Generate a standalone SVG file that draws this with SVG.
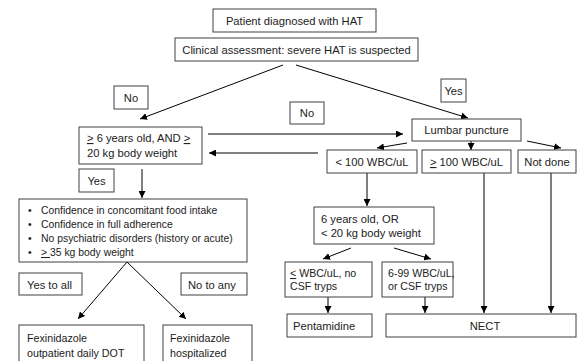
<svg xmlns="http://www.w3.org/2000/svg" width="577" height="361" viewBox="0 0 577 361">
<defs>
<marker id="ah" viewBox="0 0 10 10" refX="10" refY="5" markerWidth="7" markerHeight="7" markerUnits="userSpaceOnUse" orient="auto">
<path d="M0,0 L10,5 L0,10 z" fill="#000"/>
</marker>
<style>
rect{fill:#fff;stroke:#404040;stroke-width:1}
text{font-family:"Liberation Sans",Arial,sans-serif;font-size:11.2px;fill:#222}
.s{font-size:10.6px}
.b{font-size:10.4px}
.f{font-size:10.7px}
.c{text-anchor:middle}
.u{text-decoration:underline}
#connectors line{stroke:#000;stroke-width:1;marker-end:url(#ah)}
</style>
</defs>
<rect x="0" y="0" width="577" height="361" style="fill:#fff;stroke:none"/>
<g id="connectors">
<line x1="283" y1="65" x2="140" y2="119"/>
<line x1="296" y1="65" x2="468" y2="118"/>
<line x1="208" y1="134" x2="403" y2="134"/>
<line x1="318" y1="153" x2="209" y2="153"/>
<line x1="407" y1="143" x2="377" y2="148"/>
<line x1="471" y1="141" x2="471" y2="150"/>
<line x1="527" y1="141" x2="561" y2="148"/>
<line x1="142" y1="169" x2="142" y2="198"/>
<line x1="127" y1="262" x2="78" y2="319"/>
<line x1="127" y1="262" x2="186" y2="319"/>
<line x1="367" y1="173" x2="367" y2="206"/>
<line x1="351" y1="248" x2="323" y2="259"/>
<line x1="394" y1="248" x2="431" y2="259"/>
<line x1="328" y1="297" x2="328" y2="313"/>
<line x1="425" y1="297" x2="425" y2="313"/>
<line x1="484" y1="173" x2="484" y2="313"/>
<line x1="551" y1="173" x2="551" y2="313"/>
</g>
<g id="n-diag"><rect x="213" y="9" width="163" height="23"/><text class="c" x="294.5" y="25">Patient diagnosed with HAT</text></g>
<g id="n-clin"><rect x="175" y="38" width="243" height="23"/><text class="c" x="296.5" y="54">Clinical assessment: severe HAT is suspected</text></g>
<g id="l-no1"><rect x="114" y="86" width="34" height="23"/><text class="c" x="131" y="102">No</text></g>
<g id="l-yes1"><rect x="441" y="79" width="25" height="23"/><text class="c" x="453.5" y="95">Yes</text></g>
<g id="l-no2"><rect x="290" y="102" width="34" height="22"/><text class="c" x="307" y="117">No</text></g>
<g id="n-age"><rect x="79" y="127" width="123" height="37"/><text x="87" y="142"><tspan class="u">&gt;</tspan> 6 years old, AND <tspan class="u">&gt;</tspan></text><text x="87" y="157">20 kg body weight</text></g>
<g id="n-lp"><rect x="412" y="119" width="109" height="22"/><text class="c" x="466.5" y="134">Lumbar puncture</text></g>
<g id="n-lt100"><rect x="327" y="150" width="90" height="23"/><text class="c" x="372" y="166">&lt; 100 WBC/uL</text></g>
<g id="n-ge100"><rect x="422" y="150" width="89" height="23"/><text class="c" x="466.5" y="166"><tspan class="u">&gt;</tspan> 100 WBC/uL</text></g>
<g id="n-notdone"><rect x="518" y="150" width="58" height="23"/><text class="c" x="547" y="166">Not done</text></g>
<g id="l-yes2"><rect x="79" y="169" width="35" height="23"/><text class="c" x="96.5" y="185">Yes</text></g>
<g id="n-crit"><rect x="19" y="199" width="228" height="63"/>
<text class="b" x="28" y="214">•</text><text class="b" x="41" y="214">Confidence in concomitant food intake</text>
<text class="b" x="28" y="228">•</text><text class="b" x="41" y="228">Confidence in full adherence</text>
<text class="b" x="28" y="242">•</text><text class="b" x="41" y="242">No psychiatric disorders (history or acute)</text>
<text class="b" x="28" y="256">•</text><text class="b" x="41" y="256"><tspan class="u">&gt; </tspan>35 kg body weight</text></g>
<g id="l-yesall"><rect x="19" y="273" width="63" height="22"/><text x="27" y="289">Yes to all</text></g>
<g id="l-noany"><rect x="181" y="273" width="66" height="22"/><text x="188" y="289">No to any</text></g>
<g id="n-fexout"><rect x="19" y="325" width="125" height="40"/><text class="f" x="27" y="342">Fexinidazole</text><text class="f" x="27" y="357">outpatient daily DOT</text></g>
<g id="n-fexhosp"><rect x="163" y="325" width="89" height="40"/><text class="f" x="170" y="342">Fexinidazole</text><text class="f" x="170" y="357">hospitalized</text></g>
<g id="n-young"><rect x="314" y="207" width="120" height="37"/><text x="321" y="223">6 years old, OR</text><text x="321" y="237">&lt; 20 kg body weight</text></g>
<g id="n-lowwbc"><rect x="285" y="262" width="87" height="35"/><text class="s" x="290" y="277"><tspan class="u">&lt;</tspan> WBC/uL, no</text><text class="s" x="290" y="290">CSF tryps</text></g>
<g id="n-midwbc"><rect x="382" y="262" width="71" height="35"/><text class="s" x="388" y="277">6-99 WBC/uL,</text><text class="s" x="388" y="290">or CSF tryps</text></g>
<g id="n-pent"><rect x="287" y="314" width="85" height="23"/><text x="293" y="330">Pentamidine</text></g>
<g id="n-nect"><rect x="386" y="314" width="190" height="23"/><text class="c" x="485" y="330">NECT</text></g>
</svg>
